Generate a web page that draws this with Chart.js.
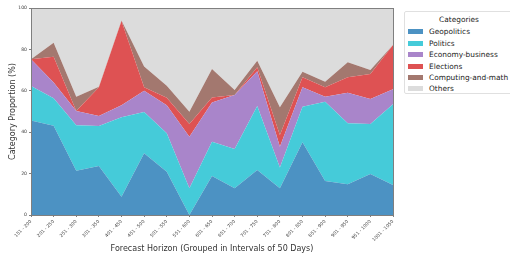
<!DOCTYPE html>
<html lang="en">
<head>
  <meta charset="UTF-8">
  <title>Category Proportion by Forecast Horizon</title>
  <script src="https://cdn.jsdelivr.net/npm/chart.js"></script>
  <style>
    html, body { margin: 0; padding: 0; background: #fff; }
    #wrap { position: relative; width: 510px; height: 255px; font-family: "DejaVu Sans", sans-serif; }
    #legend { position: absolute; left: 404px; top: 11px; width: 110px; height: 83px; box-sizing: border-box;
              border: 1px solid #e0e0e0; border-radius: 2px; background: #fff; font-size: 7.4px; color: #222; }
    #legend .title { text-align: center; margin-top: 3px; height: 11px; }
    #legend .row { height: 11.45px; display: flex; align-items: center; white-space: nowrap; }
    #legend .sw { width: 15px; height: 5px; margin-left: 3px; margin-right: 6px; }
  </style>
</head>
<body>
<div id="wrap">
  <canvas id="chart" width="510" height="255"></canvas>
  <div id="legend"><div class="title">Categories</div></div>
</div>

<script>
const horizons = ['151 - 200', '201 - 250', '251 - 300', '301 - 350', '401 - 450', '451 - 500', '501 - 550',
  '551 - 600', '601 - 650', '651 - 700', '701 - 750', '751 - 800', '801 - 850', '851 - 900', '901 - 950',
  '951 - 1000', '1001 - 1050'];

const geopolitics = [45.6, 43.1, 21.4, 23.7, 8.8, 29.8, 20.9, 0, 18.8, 12.9, 21.7, 12.9, 35.1, 16.4, 14.8, 19.8, 14.5];
const politics    = [16.7, 13.3, 21.9, 19.3, 38.4, 20.0, 18.6, 12.9, 16.6, 19.0, 31.0, 10.0, 17.2, 38.3, 29.5, 24.2, 39.0];
const economy     = [12.9, 7.6, 6.9, 4.8, 5.8, 10.2, 13.5, 24.9, 19.0, 26.1, 16.7, 10.1, 9.4, 2.4, 14.8, 12.0, 7.2];
const elections   = [0, 12.5, 0, 13.9, 40.7, 1.7, 3.7, 6.2, 2.4, 0, 2.0, 5.6, 4.8, 4.6, 7.4, 12.1, 21.4];
const computing   = [0, 6.7, 6.9, 0.3, 0.3, 10.0, 5.8, 5.9, 13.7, 2.4, 3.1, 13.4, 2.7, 2.7, 7.3, 1.9, 0];
const others      = [24.8, 16.8, 42.9, 38.0, 6.0, 28.3, 37.5, 50.1, 29.5, 39.6, 25.5, 48.0, 30.8, 35.6, 26.2, 30.0, 17.9];

const yTicks = [0, 20, 40, 60, 80, 100];

const series = [
  { label: 'Geopolitics', data: geopolitics, color: 'rgb(76,146,195)' },
  { label: 'Politics', data: politics, color: 'rgb(69,203,217)' },
  { label: 'Economy-business', data: economy, color: 'rgb(169,133,202)' },
  { label: 'Elections', data: elections, color: 'rgb(222,82,83)' },
  { label: 'Computing-and-math', data: computing, color: 'rgb(163,120,111)' },
  { label: 'Others', data: others, color: 'rgb(220,220,220)' }
];

// legend built by hand so it sits outside the plot like the original
const legend = document.getElementById('legend');
series.forEach(s => {
  const row = document.createElement('div');
  row.className = 'row';
  row.innerHTML = `<span class="sw" style="background:${s.color}"></span><span>${s.label}</span>`;
  legend.appendChild(row);
});

const frame = {
  id: 'frame',
  afterDatasetsDraw(chart) {
    const a = chart.chartArea, c = chart.ctx;
    c.save();
    c.strokeStyle = '#7f7f7f';
    c.lineWidth = 1;
    c.strokeRect(Math.round(a.left) + 0.5, Math.round(a.top) + 0.5, Math.round(a.right - a.left), Math.round(a.bottom - a.top));
    c.restore();
  }
};

const tickFont = { family: 'DejaVu Sans', size: 4.6 };
const titleFont = { family: 'DejaVu Sans', size: 8 };

new Chart(document.getElementById('chart'), {
  type: 'line',
  data: {
    labels: horizons,
    datasets: series.map((s, i) => ({
      label: s.label,
      data: s.data,
      backgroundColor: s.color,
      borderWidth: 0,
      pointRadius: 0,
      tension: 0,
      fill: i === 0 ? 'origin' : '-1'
    }))
  },
  options: {
    responsive: false,
    animation: false,
    layout: { padding: { left: 0, right: 117, top: 8, bottom: 0 } },
    plugins: { legend: { display: false }, tooltip: { enabled: false } },
    scales: {
      x: {
        offset: false,
        grid: { drawOnChartArea: false, tickLength: 2, color: '#7f7f7f' },
        border: { display: false },
        ticks: { font: tickFont, color: '#444', maxRotation: 45, minRotation: 45, autoSkip: false, padding: 2 },
        title: { display: true, text: 'Forecast Horizon (Grouped in Intervals of 50 Days)', font: titleFont, color: '#333', padding: { top: 0, bottom: 1 } },
        afterFit: s => { s.height = 40; }
      },
      y: {
        stacked: true,
        min: 0,
        max: 100,
        afterBuildTicks: s => { s.ticks = yTicks.map(v => ({ value: v })); },
        grid: { drawOnChartArea: false, tickLength: 2, color: '#7f7f7f' },
        border: { display: false },
        ticks: { font: tickFont, color: '#444', padding: 2 },
        title: { display: true, text: 'Category Proportion (%)', font: titleFont, color: '#333', padding: { top: 8, bottom: 0 } },
        afterFit: s => { s.width = 31; }
      }
    }
  },
  plugins: [frame]
});
</script>
</body>
</html>
